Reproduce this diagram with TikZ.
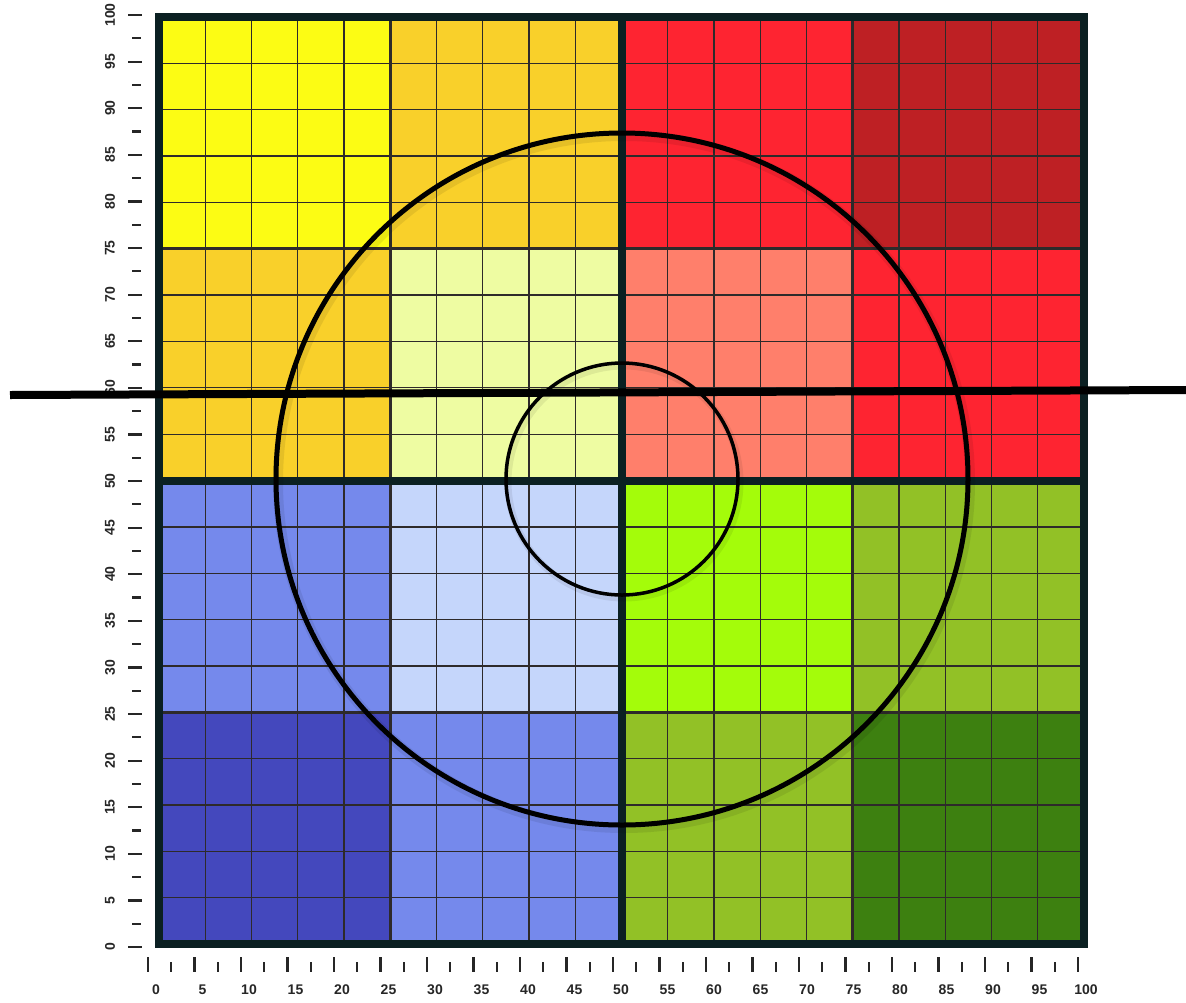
\documentclass[tikz,border=0pt]{standalone}
\usepackage{fontspec}
\setmainfont{Liberation Sans}
\definecolor{cYel}{HTML}{FCFC14}
\definecolor{cOra}{HTML}{F9D02A}
\definecolor{cRed}{HTML}{FE2431}
\definecolor{cDRed}{HTML}{BE2024}
\definecolor{cPYel}{HTML}{EEFCA2}
\definecolor{cSal}{HTML}{FF7F6B}
\definecolor{cBlue}{HTML}{7589EC}
\definecolor{cPBlue}{HTML}{C5D6FB}
\definecolor{cLime}{HTML}{A4FC0A}
\definecolor{cOlive}{HTML}{92C126}
\definecolor{cDBlue}{HTML}{4448BD}
\definecolor{cDGreen}{HTML}{3D8010}
\definecolor{cFrame}{HTML}{0B2022}
\definecolor{cLine}{HTML}{2E2A2A}
\begin{document}
\begin{tikzpicture}[x=1pt,y=-1pt,
  gridline/.style={draw=cLine,line width=1.3pt},
  quarterline/.style={draw=cLine,line width=3pt},
  heavyline/.style={draw=cFrame,line width=8pt},
  ring/.style={draw=black,line width=#1},
  tickmark/.style={draw=black!85,line width=2.2pt},
  axlabel/.style={font=\fontsize{14}{14}\selectfont\bfseries,text=black!85,inner sep=0pt}]
\useasboundingbox (0,0) rectangle (1186,1002);
\fill[white] (0,0) rectangle (1186,1002);
\begin{scope}[shift={(159,944)},x=9.25pt,y=9.27pt]
  % blocks
  \fill[cYel]   (0,75) rectangle (25,100);
  \fill[cOra]   (25,75) rectangle (50,100);
  \fill[cRed]   (50,75) rectangle (75,100);
  \fill[cDRed]  (75,75) rectangle (100,100);
  \fill[cOra]   (0,50) rectangle (25,75);
  \fill[cPYel]  (25,50) rectangle (50,75);
  \fill[cSal]   (50,50) rectangle (75,75);
  \fill[cRed]   (75,50) rectangle (100,75);
  \fill[cBlue]  (0,25) rectangle (25,50);
  \fill[cPBlue] (25,25) rectangle (50,50);
  \fill[cLime]  (50,25) rectangle (75,50);
  \fill[cOlive] (75,25) rectangle (100,50);
  \fill[cDBlue] (0,0) rectangle (25,25);
  \fill[cBlue]  (25,0) rectangle (50,25);
  \fill[cOlive] (50,0) rectangle (75,25);
  \fill[cDGreen](75,0) rectangle (100,25);
  % thin grid
  \foreach \i in {5,10,15,20,30,35,40,45,55,60,65,70,80,85,90,95}{
    \draw[gridline] (\i,0) -- (\i,100);
    \draw[gridline] (0,\i) -- (100,\i);
  }
  \foreach \i in {25,75}{
    \draw[quarterline] (\i,0) -- (\i,100);
    \draw[quarterline] (0,\i) -- (100,\i);
  }
  \draw[heavyline] (50,0) -- (50,100);
  \draw[heavyline] (0,50) -- (100,50);
  \draw[heavyline] (0,0) rectangle (100,100);
\end{scope}
% axes
\foreach \v in {0,5,...,100}{
  \pgfmathsetmacro{\yy}{947-9.32*\v}
  \draw[tickmark] (128,\yy) -- (142,\yy);
  \node[axlabel,rotate=90] (yl\v) at (110,\yy) {\v};
  \pgfmathsetmacro{\xx}{148+9.3*\v}
  \draw[tickmark] (\xx,957) -- (\xx,972);
  \node[axlabel] (xl\v) at ({\xx+8},990) {\v};
}
\foreach \v in {2.5,7.5,...,97.5}{
  \pgfmathsetmacro{\yy}{947-9.32*\v}
  \draw[tickmark] (132,\yy) -- (141,\yy);
  \pgfmathsetmacro{\xx}{148+9.3*\v}
  \draw[tickmark] (\xx,962) -- (\xx,972);
}
% circles
\coordinate (ctr) at (622,479);
\draw[black,opacity=0.08,line width=10pt] ([shift={(2,3)}]ctr) circle[radius=346];
\draw[black,opacity=0.07,line width=7pt] ([shift={(2,3)}]ctr) circle[radius=116];
\draw[ring=5pt] (ctr) circle[radius=346];
\draw[ring=3.5pt] (ctr) circle[radius=116];
% horizontal line
\coordinate (hl) at (10,395);
\coordinate (hr) at (1186,390);
\draw[black,line width=8pt] (hl) -- (hr);
\end{tikzpicture}
\end{document}
